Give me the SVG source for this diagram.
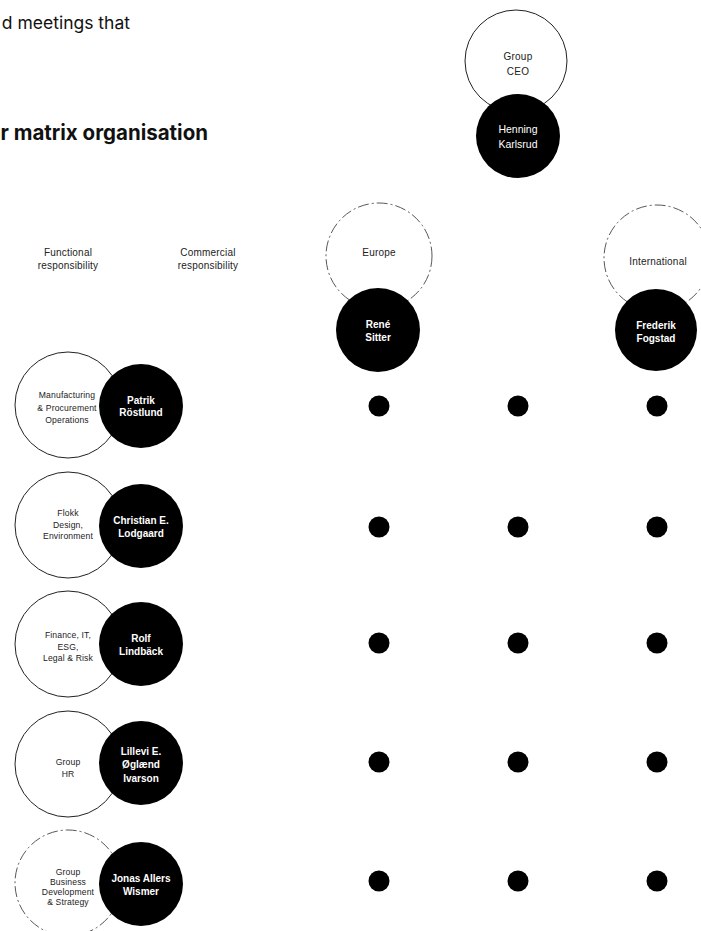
<svg xmlns="http://www.w3.org/2000/svg" width="701" height="931" viewBox="0 0 701 931">
<style>
.bg{fill:#fff}
.ring{fill:#fff;stroke:#222;stroke-width:1}
.dash{fill:#fff;stroke:#444;stroke-width:0.9;stroke-dasharray:11 3 2 3}
.dark{fill:#000}
.lbl{font-family:"Liberation Sans",Arial,sans-serif;font-size:8.6px;letter-spacing:0.15px;fill:#222;text-anchor:middle}
.top{font-family:"Liberation Sans",Arial,sans-serif;font-size:10px;letter-spacing:0.2px;fill:#222;text-anchor:middle}
.hdr{font-family:"Liberation Sans",Arial,sans-serif;font-size:10px;letter-spacing:0.2px;fill:#222;text-anchor:middle}
.name{font-family:"Liberation Sans",Arial,sans-serif;font-size:10px;font-weight:bold;fill:#fff;text-anchor:middle}
.namel{font-family:"Liberation Sans",Arial,sans-serif;font-size:10.5px;fill:#fff;text-anchor:middle}
.body{font-family:Inter,"Liberation Sans",sans-serif;font-size:17.5px;fill:#111;text-anchor:end}
.title{font-family:Inter,"Liberation Sans",sans-serif;font-size:20.5px;font-weight:bold;fill:#111;text-anchor:end}
</style>
<rect class="bg" x="0" y="0" width="701" height="931"/>
<text class="body" x="130" y="29">d meetings that</text>
<text class="title" x="208" y="140">r matrix organisation</text>
<text class="hdr" x="68" y="256">Functional</text>
<text class="hdr" x="68" y="269">responsibility</text>
<text class="hdr" x="208" y="256">Commercial</text>
<text class="hdr" x="208" y="269">responsibility</text>

<g id="connectors"></g>

<g id="ceo">
<circle class="ring" cx="516" cy="61" r="51"/>
<circle class="dark" cx="518" cy="136" r="42"/>
<text class="top" x="518" y="60">Group</text>
<text class="top" x="518" y="75">CEO</text>
<text class="namel" x="518" y="133">Henning</text>
<text class="namel" x="518" y="148">Karlsrud</text>
</g>

<g id="europe">
<circle class="dash" cx="379" cy="256" r="53"/>
<circle class="dark" cx="378" cy="330" r="42"/>
<text class="top" x="379" y="256">Europe</text>
<text class="name" x="378" y="328">René</text>
<text class="name" x="378" y="341">Sitter</text>
</g>

<g id="international">
<circle class="dash" cx="657" cy="258" r="53"/>
<circle class="dark" cx="656" cy="330" r="41"/>
<text class="top" x="658" y="265">International</text>
<text class="name" x="656" y="329">Frederik</text>
<text class="name" x="656" y="342">Fogstad</text>
</g>

<g id="row-manufacturing">
<circle class="ring" cx="68" cy="405" r="53"/>
<circle class="dark" cx="141" cy="406" r="42"/>
<text class="lbl" x="67" y="398">Manufacturing</text>
<text class="lbl" x="67" y="411">&amp; Procurement</text>
<text class="lbl" x="67" y="423">Operations</text>
<text class="name" x="141" y="404">Patrik</text>
<text class="name" x="141" y="416">Röstlund</text>
</g>

<g id="row-design">
<circle class="ring" cx="68" cy="525" r="53"/>
<circle class="dark" cx="141" cy="526" r="42"/>
<text class="lbl" x="68" y="516">Flokk</text>
<text class="lbl" x="68" y="528">Design,</text>
<text class="lbl" x="68" y="539">Environment</text>
<text class="name" x="141" y="524">Christian E.</text>
<text class="name" x="141" y="537">Lodgaard</text>
</g>

<g id="row-finance">
<circle class="ring" cx="68" cy="644" r="53"/>
<circle class="dark" cx="141" cy="644" r="42"/>
<text class="lbl" x="68" y="638">Finance, IT,</text>
<text class="lbl" x="68" y="650">ESG,</text>
<text class="lbl" x="68" y="661">Legal &amp; Risk</text>
<text class="name" x="141" y="642">Rolf</text>
<text class="name" x="141" y="655">Lindbäck</text>
</g>

<g id="row-hr">
<circle class="ring" cx="68" cy="764" r="53"/>
<circle class="dark" cx="141" cy="763" r="42"/>
<text class="lbl" x="68" y="765">Group</text>
<text class="lbl" x="68" y="777">HR</text>
<text class="name" x="141" y="755">Lillevi E.</text>
<text class="name" x="141" y="768">Øglænd</text>
<text class="name" x="141" y="782">Ivarson</text>
</g>

<g id="row-bizdev">
<circle class="dash" cx="68" cy="883" r="53"/>
<circle class="dark" cx="141" cy="884" r="42"/>
<text class="lbl" x="68" y="875">Group</text>
<text class="lbl" x="68" y="885">Business</text>
<text class="lbl" x="68" y="895">Development</text>
<text class="lbl" x="68" y="905">&amp; Strategy</text>
<text class="name" x="141" y="882">Jonas Allers</text>
<text class="name" x="141" y="895">Wismer</text>
</g>

<g id="dots">
<circle class="dark" cx="379" cy="406" r="10.5"/>
<circle class="dark" cx="518" cy="406" r="10.5"/>
<circle class="dark" cx="657" cy="406" r="10.5"/>
<circle class="dark" cx="379" cy="527" r="10.5"/>
<circle class="dark" cx="518" cy="527" r="10.5"/>
<circle class="dark" cx="657" cy="527" r="10.5"/>
<circle class="dark" cx="379" cy="643" r="10.5"/>
<circle class="dark" cx="518" cy="643" r="10.5"/>
<circle class="dark" cx="657" cy="643" r="10.5"/>
<circle class="dark" cx="379" cy="762" r="10.5"/>
<circle class="dark" cx="518" cy="762" r="10.5"/>
<circle class="dark" cx="657" cy="762" r="10.5"/>
<circle class="dark" cx="379" cy="881" r="10.5"/>
<circle class="dark" cx="518" cy="881" r="10.5"/>
<circle class="dark" cx="657" cy="881" r="10.5"/>
</g>
</svg>
